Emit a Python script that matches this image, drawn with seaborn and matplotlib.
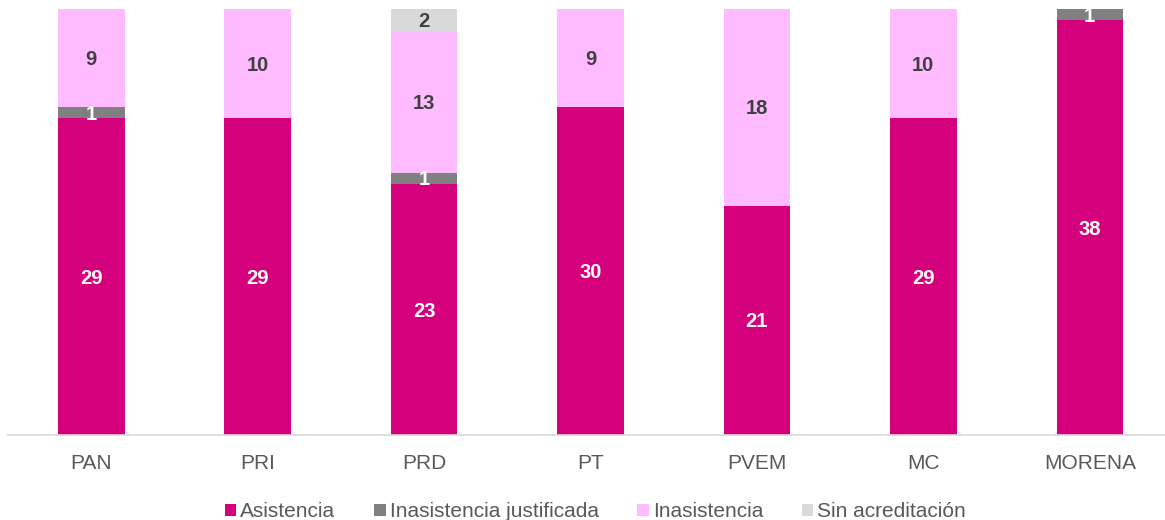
import numpy as np
import matplotlib.pyplot as plt
import seaborn as sns

partidos = ["PAN", "PRI", "PRD", "PT", "PVEM", "MC", "MORENA"]
asistencia = [29, 29, 23, 30, 21, 29, 38]
inasistencia_just = [1, 0, 1, 0, 0, 0, 1]
inasistencia = [9, 10, 13, 9, 18, 10, 0]
sin_acreditacion = [0, 0, 2, 0, 0, 0, 0]

series = [
    ("Asistencia", asistencia, "#D5007B", "white"),
    ("Inasistencia justificada", inasistencia_just, "#808080", "white"),
    ("Inasistencia", inasistencia, "#FFBBFF", "#404040"),
    ("Sin acreditación", sin_acreditacion, "#D9D9D9", "#404040"),
]

sns.set_theme(style="white")
plt.rcParams["font.family"] = ["Liberation Sans", "DejaVu Sans"]

fig = plt.figure(figsize=(11.65, 5.2), dpi=100)
ax = fig.add_axes([8 / 1165, 85 / 520, 1165 / 1165, 426 / 520])

bottom = np.zeros(len(partidos))
for name, vals, color, txt_color in series:
    vals = np.array(vals, dtype=float)
    sns.barplot(x=partidos, y=vals, bottom=bottom, color=color, width=0.4,
                linewidth=0, label=name, ax=ax, saturation=1)
    for i, v in enumerate(vals):
        if v > 0:
            ax.text(i, bottom[i] + v / 2 - 0.15, f"{int(v)}", ha="center", va="center",
                    color=txt_color, fontsize=14.5, fontweight="bold")
    bottom += vals

ax.set_ylim(0, 39)
ax.set_xlim(-0.5, 6.5)
ax.set_yticks([])
ax.set_ylabel("")
for s in ["top", "right", "left"]:
    ax.spines[s].set_visible(False)
ax.spines["bottom"].set_color("#D9D9D9")
ax.spines["bottom"].set_linewidth(1.2)
ax.tick_params(axis="x", colors="#595959", labelsize=15, length=0, pad=14)

ax.legend(loc="center", bbox_to_anchor=(0.5 + 5 / 1165, -0.18), ncol=4, frameon=False,
          fontsize=15, handlelength=0.55, handleheight=0.55, handletextpad=0.2,
          columnspacing=1.85, labelcolor="#595959")

fig.savefig("out.png", dpi=100)
